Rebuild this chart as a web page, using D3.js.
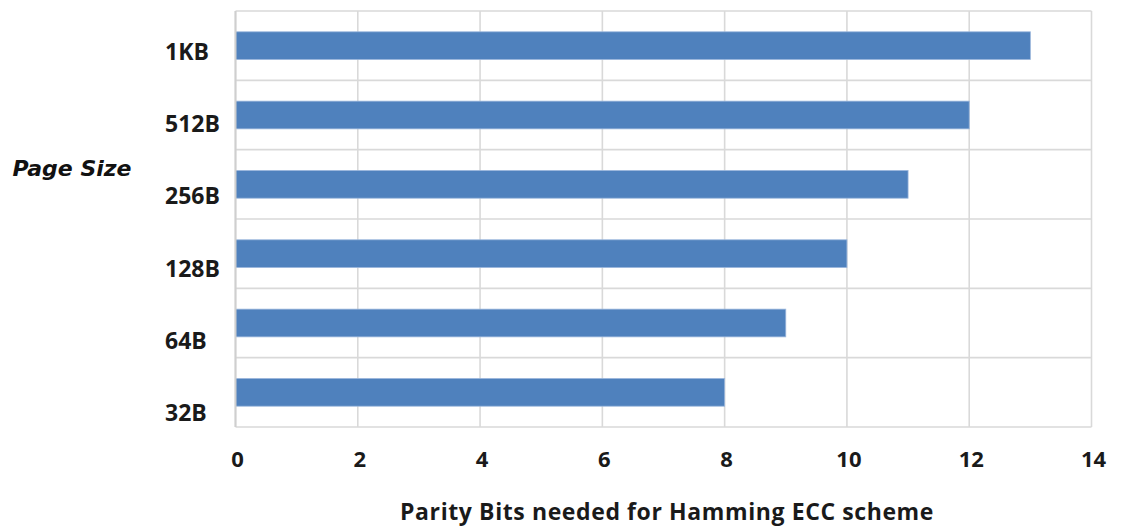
<!DOCTYPE html>
<html>
<head>
<meta charset="utf-8">
<script src="https://cdn.jsdelivr.net/npm/d3@7"></script>
<style>
  html, body { margin: 0; padding: 0; background: #fff; }
  svg { display: block; }
</style>
</head>
<body>
<svg id="chart" width="1123" height="529"></svg>
<script>
const categories = ["1KB", "512B", "256B", "128B", "64B", "32B"];
const parityBits = [13, 12, 11, 10, 9, 8];
const xTicks = [0, 2, 4, 6, 8, 10, 12, 14];
const xTitle = "Parity Bits needed for Hamming ECC scheme";
const yTitle = "Page Size";

const svg = d3.select("#chart");
const plot = { left: 235.5, right: 1091.5, top: 11, bottom: 427 };

const x = d3.scaleLinear().domain([0, 14]).range([plot.left, plot.right]);
const y = d3.scaleBand().domain(categories).range([plot.top, plot.bottom])
  .paddingInner(0.6).paddingOuter(0.3);
// category labels sit on their own evenly spaced rows
const yLabel = d3.scalePoint().domain(categories).range([60, 421]);

const gridColor = "#d9d9d9";

// vertical gridlines
svg.append("g").selectAll("line").data(xTicks).join("line")
  .attr("x1", d => x(d)).attr("x2", d => x(d))
  .attr("y1", plot.top).attr("y2", plot.bottom)
  .attr("stroke", gridColor).attr("stroke-width", 1.6);

// horizontal gridlines at band boundaries
const bounds = d3.range(categories.length + 1).map(i => plot.top + i * y.step());
svg.append("g").selectAll("line").data(bounds).join("line")
  .attr("x1", plot.left).attr("x2", plot.right)
  .attr("y1", d => d).attr("y2", d => d)
  .attr("stroke", gridColor).attr("stroke-width", 1.6);

// bars
svg.append("g").selectAll("rect").data(categories).join("rect")
  .attr("x", x(0))
  .attr("y", d => y(d))
  .attr("width", (d, i) => x(parityBits[i]) - x(0))
  .attr("height", y.bandwidth())
  .attr("fill", "#4f81bd")
  .attr("stroke", "#9bb7dc")
  .attr("stroke-width", 0.8);

// left axis line
svg.append("line")
  .attr("x1", plot.left).attr("x2", plot.left)
  .attr("y1", plot.top).attr("y2", plot.bottom)
  .attr("stroke", "#cfcfcf").attr("stroke-width", 2);

// category labels
svg.append("g").selectAll("text").data(categories).join("text")
  .attr("x", 165)
  .attr("y", d => yLabel(d))
  .attr("font-family", "'Open Sans', sans-serif")
  .attr("font-weight", 700)
  .attr("font-size", 23)
  .attr("fill", "#1a1a1a")
  .text(d => d);

// x tick labels
svg.append("g").selectAll("text").data(xTicks).join("text")
  .attr("x", d => x(d) + 2)
  .attr("y", 467)
  .attr("text-anchor", "middle")
  .attr("font-family", "'Open Sans', sans-serif")
  .attr("font-weight", 700)
  .attr("font-size", 22)
  .attr("fill", "#1a1a1a")
  .text(d => d);

// x axis title
svg.append("text")
  .attr("x", 667).attr("y", 520)
  .attr("text-anchor", "middle")
  .attr("font-family", "'Open Sans', sans-serif")
  .attr("font-weight", 700)
  .attr("font-size", 23)
  .attr("letter-spacing", 0.6)
  .attr("fill", "#1a1a1a")
  .text(xTitle);

// y axis title
svg.append("text")
  .attr("x", 72).attr("y", 176)
  .attr("text-anchor", "middle")
  .attr("font-family", "'DejaVu Sans', sans-serif")
  .attr("font-weight", 700)
  .attr("font-style", "italic")
  .attr("font-size", 22)
  .attr("fill", "#111")
  .text(yTitle);
</script>
</body>
</html>
